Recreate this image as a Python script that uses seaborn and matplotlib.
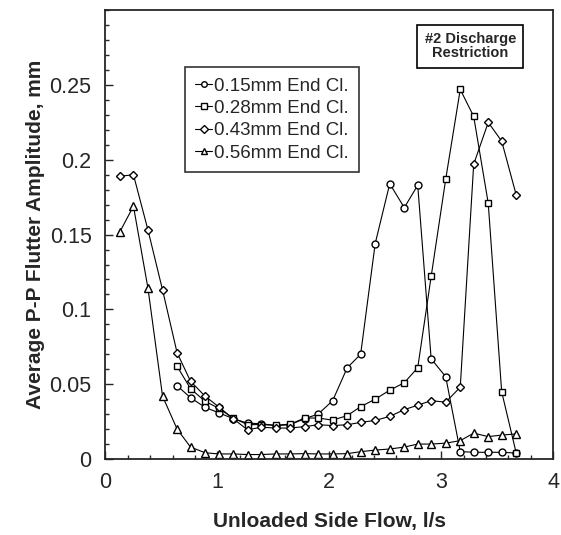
import numpy as np
import pandas as pd
import seaborn as sns
import matplotlib.pyplot as plt
from matplotlib.ticker import MultipleLocator

# flujo (l/s) y amplitud (mm)
flow_all = [0.13, 0.25, 0.38, 0.51, 0.64, 0.76, 0.89, 1.01, 1.14, 1.27, 1.39, 1.52,
            1.65, 1.78, 1.90, 2.03, 2.16, 2.28, 2.41, 2.54, 2.67, 2.79, 2.91, 3.04,
            3.17, 3.29, 3.42, 3.54, 3.67]
flow_late = flow_all[4:]

amp_015 = [0.049, 0.041, 0.0345, 0.031, 0.027, 0.024, 0.0236, 0.0224, 0.0229, 0.027,
           0.030, 0.039, 0.061, 0.070, 0.144, 0.184, 0.168, 0.183, 0.067, 0.055,
           0.005, 0.0045, 0.0045, 0.0045, 0.004]
amp_028 = [0.062, 0.047, 0.0386, 0.034, 0.0274, 0.023, 0.023, 0.0226, 0.0233, 0.0274,
           0.0274, 0.026, 0.029, 0.035, 0.040, 0.046, 0.051, 0.061, 0.122, 0.187,
           0.247, 0.229, 0.171, 0.045, 0.004]
amp_043 = [0.189, 0.190, 0.153, 0.113, 0.071, 0.052, 0.042, 0.035, 0.027, 0.0195,
           0.0213, 0.0207, 0.0207, 0.0217, 0.0229, 0.0224, 0.0229, 0.0245, 0.0258,
           0.0285, 0.033, 0.036, 0.039, 0.038, 0.048, 0.197, 0.225, 0.2125, 0.1765]
amp_056 = [0.152, 0.169, 0.114, 0.042, 0.020, 0.008, 0.0042, 0.0034, 0.0034, 0.003,
           0.003, 0.0034, 0.0034, 0.0036, 0.0034, 0.0034, 0.0036, 0.0049, 0.006,
           0.0067, 0.008, 0.010, 0.010, 0.0106, 0.0123, 0.0173, 0.015, 0.016, 0.0168]

labels = ['0.15mm End Cl.', '0.28mm End Cl.', '0.43mm End Cl.', '0.56mm End Cl.']

sns.set_style('ticks')
plt.rcParams['font.family'] = ['Liberation Sans', 'DejaVu Sans']

fig = plt.figure(figsize=(5.61, 5.35), dpi=100)
ax = fig.add_axes([0.188, 0.142, 0.798, 0.839])

series = [(flow_late, amp_015, 'o', 5), (flow_late, amp_028, 's', 5),
          (flow_all, amp_043, 'D', 4.5), (flow_all, amp_056, '^', 6)]
for (x, y, m, sz), lab in zip(series, labels):
    sns.lineplot(x=x, y=y, ax=ax, color='black', linewidth=0.8, marker=m,
                 markersize=sz, markerfacecolor='white', markeredgecolor='black',
                 markeredgewidth=1.0, label=lab)

ax.set_xlim(0, 4)
ax.set_ylim(0, 0.3)
ax.set_xticks([0, 1, 2, 3, 4])
ax.set_yticks([0, 0.05, 0.1, 0.15, 0.2, 0.25])
ax.set_yticklabels(['0', '0.05', '0.1', '0.15', '0.2', '0.25'])
ax.xaxis.set_minor_locator(MultipleLocator(0.2))
ax.yaxis.set_minor_locator(MultipleLocator(0.01))
ax.tick_params(which='both', direction='in', labelsize=15.5, width=1)
ax.tick_params(which='major', length=6)
ax.tick_params(axis='x', pad=9)
ax.tick_params(axis='y', pad=10)
ax.tick_params(which='minor', length=3)
for s in ax.spines.values():
    s.set_linewidth(1.3)

ax.set_xlabel('Unloaded Side Flow, l/s', fontsize=15, fontweight='bold', labelpad=14)
ax.set_ylabel('Average P-P Flutter Amplitude, mm', fontsize=15, fontweight='bold', labelpad=3)

leg = ax.legend(loc='upper left', bbox_to_anchor=(0.178, 0.873), borderaxespad=0,
                frameon=True, fancybox=False, edgecolor='black', fontsize=13.5,
                handlelength=0.9, handletextpad=0.1, labelspacing=0.28,
                borderpad=0.55, markerscale=0.8)
leg.get_frame().set_linewidth(1.2)

ax.text(0.815, 0.92, '#2 Discharge\nRestriction', transform=ax.transAxes,
        ha='center', va='center', fontsize=10.5, fontweight='bold', linespacing=1.05,
        bbox=dict(boxstyle='square,pad=0.5', facecolor='white', edgecolor='black', linewidth=1.2))

fig.savefig('out.png', dpi=100)
